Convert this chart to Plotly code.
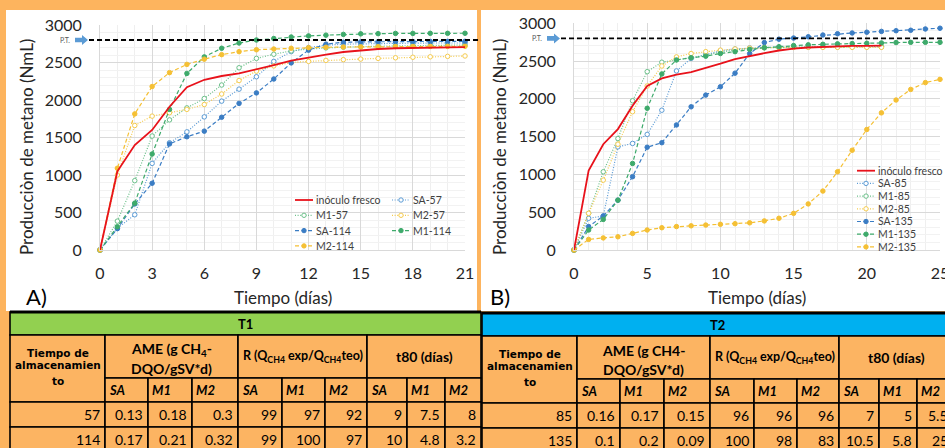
import plotly.graph_objects as go

W, H = 945, 448

# ---------------- data ----------------
days_A = list(range(22))
days_85 = list(range(22))
days_135 = list(range(26))

inoculo = [0, 1050, 1400, 1600, 1910, 2170, 2270, 2320, 2355, 2405, 2465, 2525, 2570, 2605, 2640, 2665, 2680, 2690, 2695, 2700, 2700, 2705]

SA_57 = [0, 290, 470, 1155, 1430, 1575, 1775, 1985, 2145, 2310, 2515, 2645, 2700, 2730, 2745, 2750, 2755, 2755, 2758, 2760, 2760, 2760]
M1_57 = [0, 385, 925, 1520, 1735, 1895, 2020, 2200, 2430, 2555, 2610, 2655, 2680, 2695, 2705, 2712, 2718, 2722, 2725, 2728, 2730, 2732]
M2_57 = [0, 1000, 1660, 1785, 1830, 1875, 1940, 2080, 2260, 2385, 2455, 2500, 2515, 2528, 2538, 2546, 2555, 2563, 2570, 2576, 2582, 2587]
SA_114 = [0, 285, 615, 890, 1415, 1510, 1585, 1770, 1955, 2095, 2280, 2495, 2665, 2745, 2770, 2775, 2778, 2780, 2780, 2780, 2782, 2782]
M1_114 = [0, 310, 625, 1280, 1875, 2355, 2575, 2690, 2760, 2800, 2820, 2840, 2855, 2865, 2875, 2882, 2885, 2888, 2888, 2889, 2889, 2890]
M2_114 = [0, 1090, 1815, 2180, 2365, 2475, 2545, 2605, 2645, 2670, 2680, 2690, 2698, 2703, 2706, 2708, 2710, 2712, 2713, 2714, 2715, 2716]

SA_85 = [0, 420, 450, 1365, 1410, 1530, 1850, 2370, 2535, 2590, 2635, 2660, 2675, 2680, 2684, 2687, 2689, 2690, 2690, 2690, 2690, 2690]
M1_85 = [0, 485, 1035, 1475, 1975, 2360, 2485, 2520, 2545, 2575, 2620, 2645, 2665, 2675, 2680, 2684, 2686, 2688, 2689, 2690, 2690, 2690]
M2_85 = [0, 485, 925, 1400, 1830, 2170, 2435, 2555, 2600, 2625, 2645, 2660, 2672, 2678, 2680, 2681, 2682, 2682, 2682, 2682, 2682, 2682]
SA_135 = [0, 310, 450, 660, 970, 1360, 1420, 1655, 1895, 2050, 2160, 2340, 2600, 2745, 2790, 2805, 2822, 2845, 2862, 2872, 2882, 2893, 2902, 2908, 2925, 2935]
M1_135 = [0, 265, 405, 660, 1145, 1875, 2330, 2515, 2545, 2565, 2600, 2625, 2655, 2678, 2690, 2705, 2715, 2722, 2728, 2732, 2736, 2740, 2745, 2748, 2748, 2748]
M2_135 = [0, 140, 160, 175, 220, 265, 295, 310, 320, 330, 340, 348, 360, 385, 420, 485, 610, 780, 1035, 1320, 1595, 1815, 1985, 2125, 2215, 2258]

PT = 2800  # produccion teorica

x_ticks_A = [0, 3, 6, 9, 12, 15, 18, 21]
x_ticks_B = [0, 5, 10, 15, 20, 25]
y_ticks = [0, 500, 1000, 1500, 2000, 2500, 3000]

# tables
sub_headers = ["SA", "M1", "M2"]
storage_T1 = [57, 114]
row_T1_57 = [0.13, 0.18, 0.3, 99, 97, 92, 9, 7.5, 8]
row_T1_114 = [0.17, 0.21, 0.32, 99, 100, 97, 10, 4.8, 3.2]
storage_T2 = [85, 135]
row_T2_85 = [0.16, 0.17, 0.15, 96, 96, 96, 7, 5, 5.5]
row_T2_135 = [0.1, 0.2, 0.09, 100, 98, 83, 10.5, 5.8, 25]

# ---------------- styles ----------------
RED = "#E8121B"
BLUE_L = "#5B9BD5"
BLUE_D = "#3B7DC4"
GREEN_L = "#6CC08A"
GREEN_D = "#3EAA6B"
YEL_L = "#F5CB4E"
YEL_D = "#F5C034"
ORANGE = "#FCB462"
FONT = "Lato"


def px(x):
    return x / W


def py(y):
    return 1 - y / H


DOT = "1px,1.6px"
DASH = "4px,2.5px"

series_A = [
    ("inóculo fresco", days_A, inoculo, RED, "solid", None),
    ("SA-57", days_A, SA_57, BLUE_L, DOT, "open"),
    ("M1-57", days_A, M1_57, GREEN_L, DOT, "open"),
    ("M2-57", days_A, M2_57, YEL_L, DOT, "open"),
    ("SA-114", days_A, SA_114, BLUE_D, DASH, "fill"),
    ("M1-114", days_A, M1_114, GREEN_D, DASH, "fill"),
    ("M2-114", days_A, M2_114, YEL_D, DASH, "fill"),
]
series_B = [
    ("inóculo fresco", days_85, inoculo, RED, "solid", None),
    ("SA-85", days_85, SA_85, BLUE_L, DOT, "open"),
    ("M1-85", days_85, M1_85, GREEN_L, DOT, "open"),
    ("M2-85", days_85, M2_85, YEL_L, DOT, "open"),
    ("SA-135", days_135, SA_135, BLUE_D, DASH, "fill"),
    ("M1-135", days_135, M1_135, GREEN_D, DASH, "fill"),
    ("M2-135", days_135, M2_135, YEL_D, DASH, "fill"),
]

fig = go.Figure()


def add_series(series, xa, ya):
    for name, xs, ys, col, dash, mk in series:
        if mk is None:
            fig.add_trace(go.Scatter(x=xs, y=ys, mode="lines", name=name,
                                     line=dict(color=col, width=1.8),
                                     xaxis=xa, yaxis=ya, cliponaxis=False))
        else:
            fig.add_trace(go.Scatter(
                x=xs, y=ys, mode="lines+markers", name=name,
                line=dict(color=col, width=1.2, dash=dash),
                marker=dict(symbol="circle", size=4.5,
                            color="white" if mk == "open" else col,
                            line=dict(color=col, width=1)),
                xaxis=xa, yaxis=ya, cliponaxis=False))


# draw the red line last so it sits on top
add_series(series_A[1:] + series_A[:1], "x", "y")
add_series(series_B[1:] + series_B[:1], "x2", "y2")

shapes = []
annots = []

# white panels
shapes.append(dict(type="rect", xref="paper", yref="paper", x0=px(6), x1=px(477), y0=py(311), y1=py(10),
                   fillcolor="white", line=dict(width=0), layer="below"))
shapes.append(dict(type="rect", xref="paper", yref="paper", x0=px(481), x1=px(945), y0=py(311), y1=py(10),
                   fillcolor="white", line=dict(width=0), layer="below"))

# P.T. lines and arrows
for yref, xl, xr, ax in [("y", 89, 478, 75), ("y2", 561, 945, 547)]:
    shapes.append(dict(type="line", xref="paper", yref=yref, x0=px(xl), x1=px(xr), y0=PT, y1=PT,
                       line=dict(color="black", width=1.8, dash="5px,3px")))
    pts = [(ax, -2.3), (ax + 7, -2.3), (ax + 7, -5), (ax + 13, 0), (ax + 7, 5), (ax + 7, 2.3), (ax, 2.3)]
    path = "M " + " L ".join(f"{px(a):.5f},{PT - b / 0.075:.2f}" for a, b in pts) + " Z"
    shapes.append(dict(type="path", xref="paper", yref=yref, path=path,
                       fillcolor="#5B9BD5", line=dict(width=0)))
    annots.append(dict(text="P.T.", xref="paper", yref=yref, x=px(ax - 3), y=PT, xanchor="right",
                       yanchor="middle", showarrow=False, font=dict(size=7, color="#595959", family=FONT)))


# custom legends
def legend_entry(name, col, dash, mk, x0, y):
    xs, xe = x0, x0 + 18
    if mk is None:
        shapes.append(dict(type="line", xref="paper", yref="paper", x0=px(xs), x1=px(xe), y0=py(y), y1=py(y),
                           line=dict(color=col, width=1.8)))
    else:
        shapes.append(dict(type="line", xref="paper", yref="paper", x0=px(xs), x1=px(xe), y0=py(y), y1=py(y),
                           line=dict(color=col, width=1.2, dash=dash)))
        xm = (xs + xe) / 2
        shapes.append(dict(type="circle", xref="paper", yref="paper", x0=px(xm - 2.2), x1=px(xm + 2.2),
                           y0=py(y + 2.2), y1=py(y - 2.2),
                           fillcolor="white" if mk == "open" else col, line=dict(color=col, width=1)))
    annots.append(dict(text=name, xref="paper", yref="paper", x=px(xe + 1), y=py(y), xanchor="left",
                       yanchor="middle", showarrow=False, font=dict(size=10.5, color="#404040", family=FONT)))


for i, (name, xs, ys, col, dash, mk) in enumerate(series_A):
    colx = 295 if i % 2 == 0 else 392
    legend_entry(name, col, dash, mk, colx, 200 + 15.3 * (i // 2))
for i, (name, xs, ys, col, dash, mk) in enumerate(series_B):
    legend_entry(name, col, dash, mk, 857, 170.7 + 12.7 * i)

# axis titles and panel labels
for cx, ycx, lab, ccx in [(283, 26, "A)", 36), (757, 499, "B)", 500)]:
    annots.append(dict(text="Tiempo (días)", xref="paper", yref="paper", x=px(cx), y=py(297), xanchor="center",
                       yanchor="middle", showarrow=False, font=dict(size=17, color="#262626", family=FONT)))
    annots.append(dict(text="Producciòn de metano (NmL)", xref="paper", yref="paper", x=px(ycx), y=py(147),
                       xanchor="center", yanchor="middle", textangle=-90, showarrow=False,
                       font=dict(size=17, color="#262626", family=FONT)))
    annots.append(dict(text=lab, xref="paper", yref="paper", x=px(ccx), y=py(296), xanchor="center",
                       yanchor="middle", showarrow=False, font=dict(size=22, color="black", family=FONT)))

# ---------------- tables ----------------
col_w = [95, 43, 44, 46, 44, 43, 42, 40, 38, 36]
row_h = [23, 43, 24, 25, 25]

tables = [
    (10, 312, "T1", "#92D050", "AME (g CH<sub>4</sub>-", storage_T1, [row_T1_57, row_T1_114], 245),
    (482, 313, "T2", "#00B0F0", "AME (g CH4-", storage_T2, [row_T2_85, row_T2_135], 717),
]


def rect(x0, y0, x1, y1, fill, lw=1.6):
    shapes.append(dict(type="rect", xref="paper", yref="paper", x0=px(x0), x1=px(x1), y0=py(y1), y1=py(y0),
                       fillcolor=fill, line=dict(color="black", width=lw)))


def txt(s, x, y, anchor="center", size=13, family=FONT):
    annots.append(dict(text=s, xref="paper", yref="paper", x=px(x), y=py(y), xanchor=anchor,
                       yanchor="middle", showarrow=False, font=dict(size=size, color="black", family=family)))


for x0, y0, title, tcol, ame_txt, storage, rows, tx in tables:
    xe = [x0]
    for w in col_w:
        xe.append(xe[-1] + w)
    ye = [y0]
    for h in row_h:
        ye.append(ye[-1] + h)
    rect(xe[0], ye[0], xe[-1], ye[1], tcol)
    rect(xe[0], ye[1], xe[1], ye[3], ORANGE)
    for g in range(3):
        rect(xe[1 + 3 * g], ye[1], xe[4 + 3 * g], ye[2], ORANGE)
    for c in range(1, 10):
        rect(xe[c], ye[2], xe[c + 1], ye[3], ORANGE)
    for r in range(2):
        for c in range(10):
            rect(xe[c], ye[3 + r], xe[c + 1], ye[4 + r], ORANGE)
    shapes.append(dict(type="line", xref="paper", yref="paper", x0=px(xe[0]), x1=px(xe[-1]),
                       y0=py(ye[0]), y1=py(ye[0]), line=dict(color="black", width=3)))

    txt(f"<b>{title}</b>", tx, ye[0] + 11.5)
    cx0 = (xe[0] + xe[1]) / 2
    txt("<b>Tiempo de</b>", cx0, ye[1] + 18, size=10.5, family="DejaVu Sans")
    txt("<b>almacenamien</b>", cx0, ye[1] + 30, size=10.5, family="DejaVu Sans")
    txt("<b>to</b>", cx0, ye[1] + 46, size=10.5, family="DejaVu Sans")
    cA = (xe[1] + xe[4]) / 2
    txt(f"<b>{ame_txt}</b>", cA, ye[1] + 14, size=14)
    txt("<b>DQO/gSV*d)</b>", cA, ye[1] + 33, size=14)
    cR = (xe[4] + xe[7]) / 2
    txt("<b>R (Q<sub>CH4</sub> exp/Q<sub>CH4</sub>teo)</b>", cR, ye[1] + 21, size=12.5)
    cT = (xe[7] + xe[10]) / 2
    txt("<b>t80 (días)</b>", cT, ye[1] + 21, size=14)
    for c in range(1, 10):
        txt(f"<b><i>{sub_headers[(c - 1) % 3]}</i></b>", xe[c] + 2, ye[2] + 12, anchor="left", size=13)
    for r in range(2):
        yc = ye[3 + r] + 12.5
        txt(f"{storage[r]}", xe[1] - 3, yc, anchor="right", size=14)
        for c in range(9):
            txt(f"{rows[r][c]:g}", xe[c + 2] - 3, yc, anchor="right", size=14)

# ---------------- layout ----------------
axis_common = dict(showgrid=True, gridcolor="#D9D9D9", gridwidth=1, zeroline=False,
                   showline=True, linecolor="#D9D9D9", linewidth=1, automargin=False,
                   ticklabeloverflow="allow",
                   tickfont=dict(size=16, color="#262626", family=FONT), ticks="")

fig.update_layout(
    width=W, height=H, margin=dict(l=0, r=0, t=0, b=0, pad=0, autoexpand=False),
    paper_bgcolor="#FDB45E", plot_bgcolor="rgba(0,0,0,0)",
    showlegend=False,
    xaxis=dict(domain=[px(100), px(465)], range=[0, 21], tickvals=x_ticks_A, anchor="y",
               minor=dict(dtick=1, showgrid=True, gridcolor="#EFEFEF"), ticklabelstandoff=9, **axis_common),
    yaxis=dict(domain=[py(250), py(25)], range=[0, 3000], tickvals=y_ticks, anchor="x",
               minor=dict(dtick=100, showgrid=True, gridcolor="#F2F2F2"), ticklabelstandoff=14, **axis_common),
    xaxis2=dict(domain=[px(574), px(940)], range=[0, 25], tickvals=x_ticks_B, anchor="y2",
                minor=dict(dtick=1, showgrid=True, gridcolor="#EFEFEF"), ticklabelstandoff=9, **axis_common),
    yaxis2=dict(domain=[py(250), py(23.3)], range=[0, 3000], tickvals=y_ticks, anchor="x2",
                minor=dict(dtick=100, showgrid=True, gridcolor="#F2F2F2"), ticklabelstandoff=14, **axis_common),
    shapes=shapes,
    annotations=annots,
)

fig.write_html(
    "out.html",
    config={"displayModeBar": False},
    post_script="document.body.style.margin='0px';document.body.style.overflow='hidden';"
                "document.body.style.background='#FDB45E';",
)
